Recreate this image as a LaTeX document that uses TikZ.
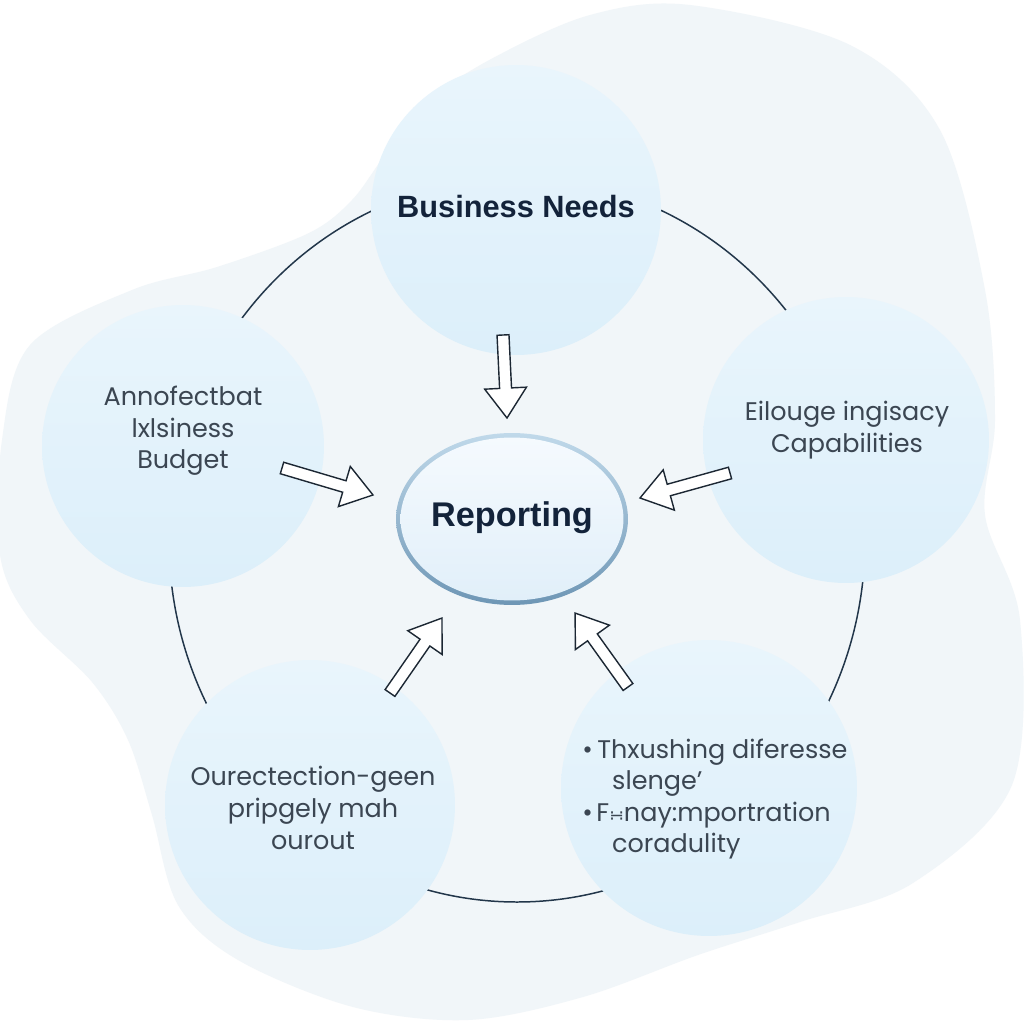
\documentclass[tikz,border=0pt]{standalone}
\usepackage{fontspec}
\setmainfont{Poppins}
\newfontfamily\headfont{Liberation Sans}
\newfontfamily\symfont{DejaVu Sans}
\usetikzlibrary{calc,shapes.geometric}
\definecolor{blobcol}{HTML}{F1F6F9}
\definecolor{bubtop}{HTML}{E9F5FC}
\definecolor{bubbot}{HTML}{DCEFFA}
\definecolor{ringcol}{HTML}{22364A}
\definecolor{lblcol}{HTML}{3B4652}
\definecolor{headcol}{HTML}{13233A}
\definecolor{arrcol}{HTML}{1C2733}
\definecolor{reptop}{HTML}{C0D9EA}
\definecolor{repbot}{HTML}{6E96B5}
\definecolor{repfilltop}{HTML}{F5FAFE}
\definecolor{repfillbot}{HTML}{E1EFF9}
\tikzset{
  bubble/.style={circle, inner sep=0pt, top color=bubtop, bottom color=bubbot, draw=none},
  lbl/.style={inner sep=0pt, align=center, text=lblcol, font=\fontsize{14.5}{18}\selectfont},
  headlbl/.style={inner sep=0pt, text=headcol},
  arrowsty/.style={draw=arrcol, fill=white, line width=0.8pt, line join=miter},
  pics/barrow/.style={code={
    \draw[arrowsty] (0pt,-3.4pt) -- ({(#1-17)*1pt},-3.4pt) -- ({(#1-17)*1pt},-11.9pt)
      -- ({#1*1pt},0pt) -- ({(#1-17)*1pt},11.9pt) -- ({(#1-17)*1pt},3.4pt) -- (0pt,3.4pt) -- cycle;
  }}
}
\newcommand\blockarrow[2]{%
  \path let \p1=($(#2)-(#1)$), \n1={atan2(\y1,\x1)}, \n2={veclen(\x1,\y1)} in
    \pgfextra{\xdef\arrang{\n1}\xdef\arrlen{\n2}};
  \pic[rotate=\arrang] at (#1) {barrow=\arrlen};
}
\begin{document}
\begin{tikzpicture}[x=0.02cm,y=-0.02cm]
\useasboundingbox (0,0) rectangle (1024,1024);
\fill[white] (0,0) rectangle (1024,1024);
% background blob
\fill[blobcol] plot[smooth cycle, tension=0.55] coordinates {
  (690,5) (850,45) (940,130) (985,290) (995,420) (985,515) (1020,620) (1012,785)
  (913,883) (800,922) (698,955) (583,997) (468,1020) (353,1007) (238,960)
  (178,905) (152,815) (128,740) (92,682) (30,620) (0,555) (2,440) (30,345)
  (132,290) (217,267) (309,233) (352,200) (385,155) (430,100) (493,58) (590,15)};
% ring
\draw[ringcol, line width=0.85pt] (517,540) ellipse [x radius=348, y radius=362];
% bubbles
\node[bubble, minimum size=5.8cm]  (bn) at (516,210) {};
\node[bubble, minimum size=5.64cm] (lb) at (183,446) {};
\node[bubble, minimum size=5.72cm] (rc) at (846,440) {};
\node[bubble, minimum size=5.8cm]  (bl) at (310,805) {};
\node[bubble, minimum size=5.92cm] (br) at (709,788) {};
% central ellipse
\node[ellipse, inner sep=0pt, minimum width=4.64cm, minimum height=3.44cm,
      top color=reptop, bottom color=repbot] (repring) at (512,519) {};
\node[ellipse, inner sep=0pt, minimum width=4.46cm, minimum height=3.26cm,
      top color=repfilltop, bottom color=repfillbot] (rep) at (512,519) {};
% labels
\node[headlbl, font=\headfont\bfseries\fontsize{17.5}{20}\selectfont] (bnl) at (516,207) {Business Needs};
\node[headlbl, font=\headfont\bfseries\fontsize{19.5}{22}\selectfont] (repl) at (512,518) {Reporting};
\node[lbl] (lbl1) at (183,431) {Annofectbat\\lxlsiness\\Budget};
\node[lbl] (rcl) at (847,430) {Eilouge ingisacy\\Capabilities};
\node[lbl] (bll) at (313,808) {Ourectection-geen\\pripgely mah\\ourout};
\node[lbl, align=left, anchor=west] (brl) at (582,799)
  {\makebox[8.5pt][l]{•}Thxushing diferesse\\\hspace*{17pt}slenge’\\
   \makebox[8pt][l]{•}F{\symfont\fontsize{10}{10}\selectfont ∺}nay:mportration\\\hspace*{17pt}coradulity};
% arrows
\coordinate (a1s) at (503,335); \coordinate (a1e) at (507,418);
\coordinate (a2s) at (282,468); \coordinate (a2e) at (373,495);
\coordinate (a3s) at (730,473); \coordinate (a3e) at (640,498);
\coordinate (a4s) at (390,693); \coordinate (a4e) at (442,618);
\coordinate (a5s) at (628,687); \coordinate (a5e) at (575,613);
\blockarrow{a1s}{a1e}
\blockarrow{a2s}{a2e}
\blockarrow{a3s}{a3e}
\blockarrow{a4s}{a4e}
\blockarrow{a5s}{a5e}
\end{tikzpicture}
\end{document}
